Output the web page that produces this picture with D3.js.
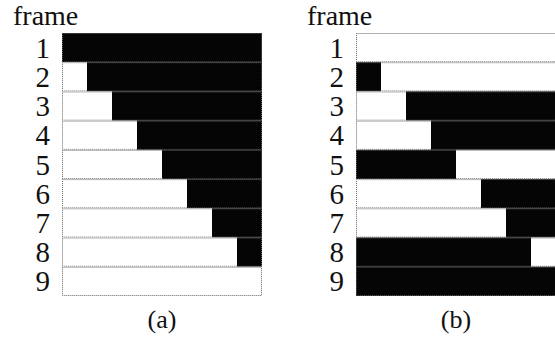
<!DOCTYPE html>
<meta charset="utf-8">
<style>
body { margin: 0; background: #fff; }
text { font-family: "Liberation Serif", "Times New Roman", serif; fill: #111; }
</style>
<svg width="555" height="339"></svg>
<script src="https://cdn.jsdelivr.net/npm/d3@7"></script>
<script>

// frame numbers, one row each
var frames = [1, 2, 3, 4, 5, 6, 7, 8, 9];

// where the colour changes in each row, in eighths of the bar
var splitA = [0, 1, 2, 3, 4, 5, 6, 7, 8];
var splitB = [0, 1, 2, 3, 4, 5, 6, 7, 8];

// colour left of the split (right side gets the other one)
var leftA = ["white", "white", "white", "white", "white", "white", "white", "white", "white"];
var leftB = ["black", "black", "white", "white", "black", "white", "white", "black", "black"];

var panels = [
  { name: "(a)", left: 62, split: splitA, leftFill: leftA },
  { name: "(b)", left: 356, split: splitB, leftFill: leftB }
];

var svg = d3.select("svg");

var y = d3.scaleBand()
    .domain(frames)
    .range([33, 296]);

function other(c) { return c == "black" ? "white" : "black"; }

panels.forEach(function (p) {
  var x = d3.scaleLinear().domain([0, 8]).range([p.left, p.left + 200]);

  var g = svg.append("g");

  var rows = g.selectAll("g.row")
      .data(frames)
      .enter().append("g")
      .attr("class", "row");

  // left part
  rows.append("rect")
      .attr("x", x(0))
      .attr("y", function (d) { return y(d); })
      .attr("width", function (d, i) { return x(p.split[i]) - x(0); })
      .attr("height", y.bandwidth())
      .attr("fill", function (d, i) { return p.leftFill[i] == "black" ? "#050505" : "#fff"; });

  // right part
  rows.append("rect")
      .attr("x", function (d, i) { return x(p.split[i]); })
      .attr("y", function (d) { return y(d); })
      .attr("width", function (d, i) { return x(8) - x(p.split[i]); })
      .attr("height", y.bandwidth())
      .attr("fill", function (d, i) { return other(p.leftFill[i]) == "black" ? "#050505" : "#fff"; });

  // dotted outline of each row (grey so it shows on black too)
  rows.append("rect")
      .attr("x", x(0) + 0.5)
      .attr("y", function (d) { return y(d) + 0.5; })
      .attr("width", x(8) - x(0) - 1)
      .attr("height", y.bandwidth() - 1)
      .attr("fill", "none")
      .attr("stroke", "#666")
      .attr("stroke-width", 1)
      .attr("stroke-dasharray", "1,1");

  // frame numbers
  rows.append("text")
      .attr("x", p.left - 12)
      .attr("y", function (d) { return y(d) + y.bandwidth() / 2 + 10; })
      .attr("text-anchor", "end")
      .style("font-size", "29px")
      .text(function (d) { return d; });

  g.append("text")
      .attr("x", p.left - 49)
      .attr("y", 25)
      .style("font-size", "28px")
      .text("frame");

  g.append("text")
      .attr("x", x(4))
      .attr("y", 328)
      .attr("text-anchor", "middle")
      .style("font-size", "26px")
      .text(p.name);
});

</script>
